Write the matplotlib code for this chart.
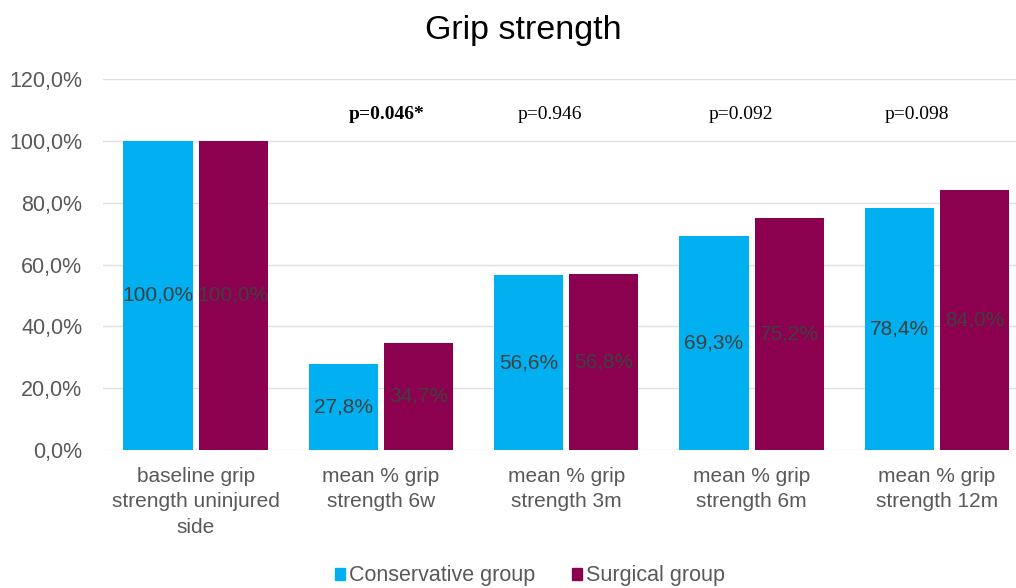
import matplotlib.pyplot as plt
import numpy as np
from matplotlib.patches import Patch

plt.rcParams["font.family"] = ["Liberation Sans", "DejaVu Sans"]

# Data
categories = ["baseline grip\nstrength uninjured\nside", "mean % grip\nstrength 6w",
              "mean % grip\nstrength 3m", "mean % grip\nstrength 6m",
              "mean % grip\nstrength 12m"]
conservative = [100.0, 27.8, 56.6, 69.3, 78.4]
surgical = [100.0, 34.7, 56.8, 75.2, 84.0]
p_values = ["", "p=0.046*", "p=0.946", "p=0.092", "p=0.098"]
p_bold = [False, True, False, False, False]

blue = "#00b0f0"
maroon = "#8b004f"
grey = "#595959"

fig = plt.figure(figsize=(10.16, 5.88), dpi=100)
ax = fig.add_axes([103 / 1016, 1 - 450 / 588, 1 - 103 / 1016, 371 / 588])

x = np.arange(len(categories))
w = 0.373
off = 0.203
b1 = ax.bar(x - off, conservative, w, color=blue, zorder=2)
b2 = ax.bar(x + off, surgical, w, color=maroon, zorder=2)

def fmt(v):
    return f"{v:.1f}%".replace(".", ",")

for bars, vals in ((b1, conservative), (b2, surgical)):
    for rect, v in zip(bars, vals):
        ax.text(rect.get_x() + rect.get_width() / 2, v / 2, fmt(v),
                ha="center", va="center", fontsize=15, color="#404040", zorder=3)

# p-value annotations sit a little off the group centres
p_shift = [0, 0.03, -0.09, -0.055, -0.11]
for xi, p, bold, dx in zip(x, p_values, p_bold, p_shift):
    if p:
        ax.text(xi + dx, 108.5, p, ha="center", va="center", fontsize=14,
                family="Liberation Serif", fontweight="bold" if bold else "normal",
                color="black")

ax.set_ylim(0, 120)
ax.set_xlim(-0.5, 4.427)
ax.set_yticks(range(0, 121, 20))
ax.set_yticklabels([fmt(v) for v in range(0, 121, 20)])
ax.set_xticks(x)
ax.set_xticklabels(categories, va="top", linespacing=1.45)
ax.tick_params(axis="both", length=0, labelsize=15, colors=grey)
ax.tick_params(axis="y", labelsize=15.5)
ax.tick_params(axis="x", pad=12)
ax.tick_params(axis="y", pad=15)
ax.grid(axis="y", color="#e0e0e0", linewidth=1.0, zorder=0)
for s in ax.spines.values():
    s.set_visible(False)

fig.text(0.515, 1 - 31 / 588, "Grip strength", ha="center", va="center", fontsize=24.5)

handles = [Patch(color=blue), Patch(color=maroon)]
fig.legend(handles, ["Conservative group", "Surgical group"], loc="center",
           bbox_to_anchor=(0.522, 1 - 576 / 588), ncol=2, frameon=False,
           fontsize=15.5, handlelength=0.45, handleheight=0.45, handletextpad=0.2,
           columnspacing=1.7, labelcolor=grey)

fig.savefig("out.png", dpi=100)
